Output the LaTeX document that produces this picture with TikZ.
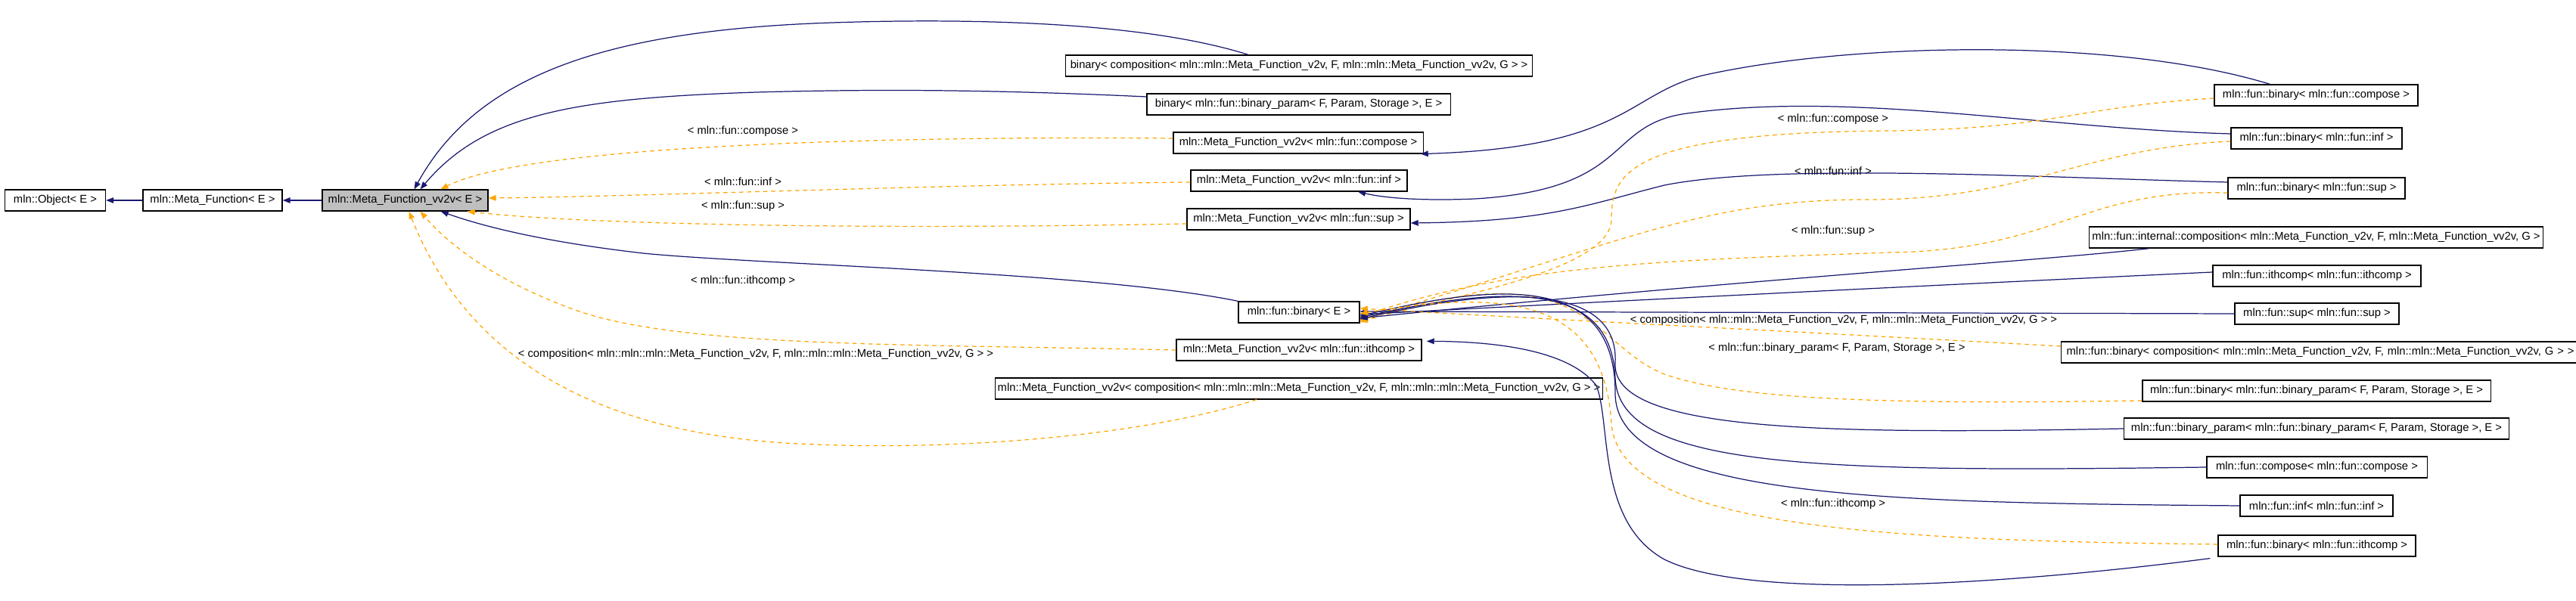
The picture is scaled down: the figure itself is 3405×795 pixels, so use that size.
\documentclass[tikz,border=0pt]{standalone}
\usepackage{fontspec}
\setmainfont{Liberation Sans}
\usetikzlibrary{arrows.meta}
\definecolor{navy}{RGB}{25,25,112}
\definecolor{orng}{RGB}{255,165,0}
\begin{document}
\begin{tikzpicture}[x=0.01cm,y=-0.01cm,
  box/.style={draw,line width=0.35pt,minimum height=0.28cm,inner sep=0pt,font=\fontsize{4.2}{5}\selectfont},
  inh/.style={navy,line width=0.35pt,-{Triangle[length=0.1cm,width=0.075cm]}},
  tpl/.style={orng,line width=0.35pt,dash pattern=on 1.6pt off 1.4pt,-{Triangle[length=0.1cm,width=0.075cm]}},
  lbl/.style={font=\fontsize{4.2}{5}\selectfont,inner sep=0pt}]
\useasboundingbox (0,0) rectangle (3405,795);
% nodes
\node[box,minimum width=1.33cm] (obj) at (73,265) {mln::Object< E >};
\node[box,minimum width=1.84cm] (mf) at (281,265) {mln::Meta\_Function< E >};
\node[box,minimum width=2.19cm,fill={rgb,255:red,191;green,191;blue,191}] (mfvv) at (535.5,265) {mln::Meta\_Function\_vv2v< E >};
\node[box,minimum width=6.16cm] (bincomp) at (1717,87) {binary< composition< mln::mln::Meta\_Function\_v2v, F, mln::mln::Meta\_Function\_vv2v, G > >};
\node[box,minimum width=4.01cm] (binbp) at (1716.5,138) {binary< mln::fun::binary\_param< F, Param, Storage >, E >};
\node[box,minimum width=3.30cm] (mfcompose) at (1716,189) {mln::Meta\_Function\_vv2v< mln::fun::compose >};
\node[box,minimum width=2.86cm] (mfinf) at (1717,239) {mln::Meta\_Function\_vv2v< mln::fun::inf >};
\node[box,minimum width=2.95cm] (mfsup) at (1716.5,290) {mln::Meta\_Function\_vv2v< mln::fun::sup >};
\node[box,minimum width=1.60cm] (binE) at (1717,413) {mln::fun::binary< E >};
\node[box,minimum width=3.24cm] (mfith) at (1717,463) {mln::Meta\_Function\_vv2v< mln::fun::ithcomp >};
\node[box,minimum width=8.02cm] (mfcomp) at (1717,514) {mln::Meta\_Function\_vv2v< composition< mln::mln::mln::Meta\_Function\_v2v, F, mln::mln::mln::Meta\_Function\_vv2v, G > >};
\node[box,minimum width=2.69cm] (rbcompose) at (3061.5,126) {mln::fun::binary< mln::fun::compose >};
\node[box,minimum width=2.26cm] (rbinf) at (3062,183) {mln::fun::binary< mln::fun::inf >};
\node[box,minimum width=2.34cm] (rbsup) at (3062,249) {mln::fun::binary< mln::fun::sup >};
\node[box,minimum width=5.99cm] (rcompo) at (3061.5,314) {mln::fun::internal::composition< mln::Meta\_Function\_v2v, F, mln::Meta\_Function\_vv2v, G >};
\node[box,minimum width=2.75cm] (rith) at (3062.5,365) {mln::fun::ithcomp< mln::fun::ithcomp >};
\node[box,minimum width=2.17cm] (rsup) at (3062.5,415) {mln::fun::sup< mln::fun::sup >};
\node[box,minimum width=6.76cm,anchor=west,inner xsep=2pt,align=left,text width=6.9cm] (rbcomp) at (2724,466) {mln::fun::binary< composition< mln::mln::Meta\_Function\_v2v, F, mln::mln::Meta\_Function\_vv2v, G > >};
\node[box,minimum width=4.60cm] (rbbp) at (3062,517) {mln::fun::binary< mln::fun::binary\_param< F, Param, Storage >, E >};
\node[box,minimum width=5.08cm] (rbp) at (3062,567) {mln::fun::binary\_param< mln::fun::binary\_param< F, Param, Storage >, E >};
\node[box,minimum width=2.91cm] (rcompose) at (3062.5,618) {mln::fun::compose< mln::fun::compose >};
\node[box,minimum width=2.02cm] (rinf) at (3062,669) {mln::fun::inf< mln::fun::inf >};
\node[box,minimum width=2.61cm] (rbith) at (3062.5,722) {mln::fun::binary< mln::fun::ithcomp >};
% labels
\node[lbl] (l1) at (982,174) {< mln::fun::compose >};
\node[lbl] (l2) at (982,240) {< mln::fun::inf >};
\node[lbl] (l3) at (982,273) {< mln::fun::sup >};
\node[lbl] (l4) at (982,372) {< mln::fun::ithcomp >};
\node[lbl] (l5) at (999,469) {< composition< mln::mln::mln::Meta\_Function\_v2v, F, mln::mln::mln::Meta\_Function\_vv2v, G > >};
\node[lbl] (l6) at (2423,158) {< mln::fun::compose >};
\node[lbl] (l7) at (2423,226) {< mln::fun::inf >};
\node[lbl] (l8) at (2423,306) {< mln::fun::sup >};
\node[lbl] (l9) at (2437,424) {< composition< mln::mln::Meta\_Function\_v2v, F, mln::mln::Meta\_Function\_vv2v, G > >};
\node[lbl] (l10) at (2428,461) {< mln::fun::binary\_param< F, Param, Storage >, E >};
\node[lbl] (l11) at (2423,667) {< mln::fun::ithcomp >};
% edges to left chain
\draw[inh] (mf.west) -- (obj.east);
\draw[inh] (mfvv.west) -- (mf.east);
\draw[inh] ([xshift=-0.67cm]bincomp.north) .. controls (1500,25) and (1250,25) .. (1100,30) .. controls (800,40) and (630,100) .. ([xshift=0.12cm]mfvv.north);
\draw[inh] ([yshift=0.1cm]binbp.west) .. controls (1300,118) and (1150,118) .. (1000,122) .. controls (760,130) and (640,150) .. ([xshift=0.2cm]mfvv.north);
\draw[tpl] ([yshift=0.06cm]mfcompose.west) .. controls (1200,180) and (700,190) .. ([xshift=0.47cm]mfvv.north);
\draw[tpl] ([yshift=-0.02cm]mfinf.west) .. controls (1200,245) and (850,260) .. ([yshift=0.03cm]mfvv.east);
\draw[tpl] ([yshift=-0.06cm]mfsup.west) .. controls (1100,305) and (750,295) .. ([xshift=-0.28cm]mfvv.south east);
\draw[inh] (binE.north west) .. controls (1450,360) and (1000,350) .. (850,335) .. controls (720,320) and (640,300) .. ([xshift=-0.63cm]mfvv.south east);
\draw[tpl] (mfith.west) .. controls (1200,455) and (900,460) .. (760,410) .. controls (650,370) and (590,320) .. ([xshift=0.2cm]mfvv.south);
\draw[tpl] ([xshift=-0.56cm]mfcomp.south) .. controls (1500,580) and (1250,595) .. (1080,588) .. controls (800,580) and (620,480) .. ([xshift=0.05cm]mfvv.south);
% right to middle
\draw[inh] ([xshift=-0.61cm]rbcompose.north) .. controls (2800,50) and (2450,55) .. (2250,100) .. controls (2150,125) and (2150,195) .. ([xshift=-0.04cm]mfcompose.south east);
\draw[inh] ([yshift=0.06cm]rbinf.west) .. controls (2700,170) and (2450,120) .. (2230,150) .. controls (2120,165) and (2160,250) .. (1950,263) .. controls (1880,266) and (1830,262) .. ([xshift=0.78cm]mfinf.south);
\draw[inh] ([yshift=0.08cm]rbsup.west) .. controls (2700,235) and (2350,215) .. (2200,245) .. controls (2100,270) and (2050,293) .. ([yshift=-0.05cm]mfsup.east);
\draw[inh] ([xshift=-0.1cm,yshift=-0.02cm]rbith.south west) .. controls (2600,780) and (2300,790) .. (2200,740) .. controls (2110,690) and (2130,560) .. (2110,510) .. controls (2080,470) and (2000,452) .. ([xshift=0.06cm,yshift=-0.03cm]mfith.north east);
% into binary<E>
\draw[tpl] ([yshift=-0.04cm]rbcompose.west) .. controls (2750,140) and (2720,170) .. (2500,173) .. controls (2150,175) and (2130,230) .. (2130,290) .. controls (2130,360) and (1900,395) .. ([yshift=-0.13cm]binE.east);
\draw[tpl] ([yshift=-0.04cm]rbinf.west) .. controls (2760,195) and (2680,262) .. (2480,264) .. controls (2250,262) and (2150,320) .. ([yshift=-0.1cm]binE.east);
\draw[tpl] ([yshift=-0.06cm]rbsup.west) .. controls (2750,250) and (2720,330) .. (2500,334) .. controls (2200,344) and (2000,350) .. ([yshift=-0.06cm]binE.east);
\draw[inh] ([xshift=-2.2cm]rcompo.south) .. controls (2700,345) and (2300,370) .. ([yshift=-0.08cm]binE.east);
\draw[inh] ([yshift=0.05cm]rith.west) .. controls (2500,380) and (2100,400) .. ([yshift=-0.03cm]binE.east);
\draw[inh] (rsup.west) -- ([yshift=0.01cm]binE.east);
\draw[tpl] ([yshift=0.08cm]rbcomp.west) .. controls (2400,440) and (2000,420) .. ([yshift=0.05cm]binE.east);
\draw[tpl] ([yshift=-0.13cm]rbbp.west) .. controls (2500,535) and (2300,530) .. (2200,495) .. controls (2100,455) and (2100,330) .. ([yshift=-0.11cm]binE.east);
\draw[inh] (rbp.west) .. controls (2400,575) and (2130,570) .. (2135,480) .. controls (2140,380) and (2000,375) .. ([yshift=-0.09cm]binE.east);
\draw[inh] (rcompose.west) .. controls (2400,625) and (2140,620) .. (2135,500) .. controls (2130,375) and (2000,375) .. ([yshift=-0.07cm]binE.east);
\draw[inh] (rinf.west) .. controls (2500,665) and (2135,660) .. (2135,520) .. controls (2135,370) and (2000,370) .. ([yshift=-0.05cm]binE.east);
\draw[tpl] ([yshift=0.02cm]rbith.west) .. controls (2500,715) and (2140,700) .. (2130,560) .. controls (2120,400) and (2000,380) .. ([yshift=-0.02cm]binE.east);
\end{tikzpicture}
\end{document}
